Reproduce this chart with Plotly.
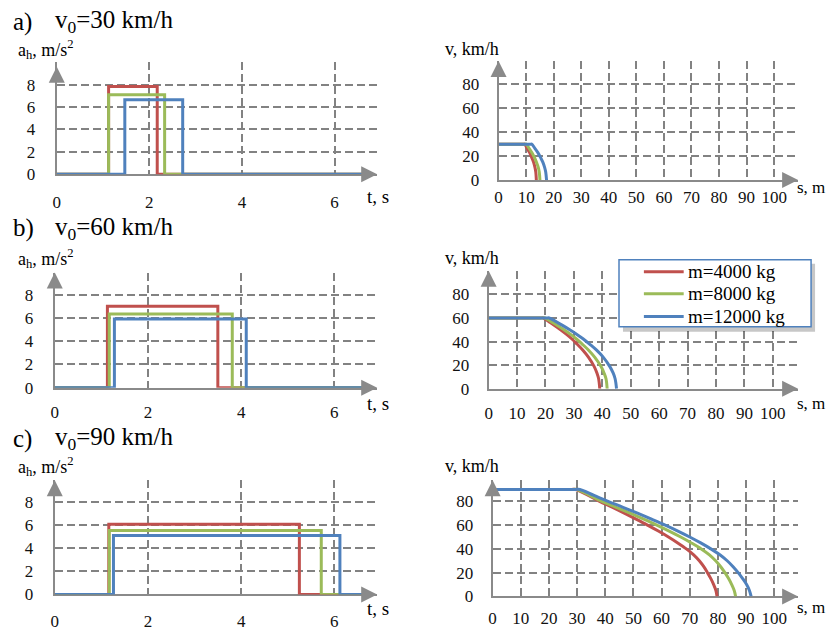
import plotly.graph_objects as go

W, H = 826, 633
FONT = "Liberation Serif"

# ---------------- data ----------------
masses = ["m=4000 kg", "m=8000 kg", "m=12000 kg"]
colors = ["#C0504D", "#9BBB59", "#4F81BD"]
speeds = [30, 60, 90]
panel_labels = ["a)", "b)", "c)"]

# deceleration a_h(t): onset time, plateau level, release time (per mass)
acc_on_30 = [1.12, 1.12, 1.47]
acc_level_30 = [7.85, 7.1, 6.65]
acc_off_30 = [2.17, 2.33, 2.72]

acc_on_60 = [1.13, 1.17, 1.28]
acc_level_60 = [7.0, 6.33, 5.9]
acc_off_60 = [3.5, 3.81, 4.11]

acc_on_90 = [1.16, 1.17, 1.26]
acc_level_90 = [6.07, 5.53, 5.1]
acc_off_90 = [5.25, 5.72, 6.12]

t_end = 6.75

# speed v(s) curves
s30_red = [0, 9.0, 9.5, 10.3, 11.2, 12.0, 12.7, 13.2, 13.5, 13.7]
s30_green = [0, 9.5, 10.0, 11.0, 12.0, 13.0, 13.75, 14.4, 14.75, 15.0]
s30_blue = [0, 11.5, 12.0, 13.1, 14.2, 15.2, 16.05, 16.7, 17.1, 17.4]
v30 = [30, 30, 30, 26.8, 23.2, 19.0, 15.0, 10.6, 6.7, 0]

s60_red = [0, 18.2, 19.2, 21.2, 23.2, 25.2, 27.2, 29.2, 31.1, 33.1, 35.1, 37.1, 38.1, 38.7, 39.1]
s60_green = [0, 18.8, 19.8, 22.0, 24.2, 26.4, 28.6, 30.8, 32.9, 35.1, 37.3, 39.5, 40.6, 41.3, 41.7]
s60_blue = [0, 20.3, 21.3, 23.7, 26.0, 28.4, 30.8, 33.2, 35.5, 37.9, 40.3, 42.6, 43.8, 44.5, 45.0]
v60 = [60, 60, 60, 56.9, 53.7, 50.2, 46.5, 42.4, 37.9, 32.9, 26.8, 19.0, 13.4, 8.5, 0]

s90_red = [0, 28.0, 29.5, 34.0, 38.0, 42.45, 46.75, 50.95, 55.0, 58.85, 62.45, 65.75, 68.8,
           71.4, 73.4, 75.0, 76.3, 77.5, 78.5, 79.3, 79.7]
s90_green = [0, 28.5, 30.0, 34.5, 38.8, 43.9, 48.85, 53.65, 58.3, 62.7, 66.8, 70.6, 74.1,
             77.0, 79.2, 81.0, 82.5, 83.8, 84.9, 85.8, 86.3]
s90_blue = [0, 29.5, 31.0, 36.0, 41.0, 46.3, 51.45, 56.45, 61.3, 65.8, 70.0, 73.9, 77.5,
            80.7, 83.3, 85.4, 87.2, 88.8, 90.2, 91.2, 91.8]
v90 = [90, 90, 90, 85, 80, 75, 70, 65, 60, 55, 50, 45, 40, 35, 30, 25, 20, 15, 10, 5, 0]

t_ticks = [0, 2, 4, 6]
a_ticks = [0, 2, 4, 6, 8]
s_ticks = [0, 10, 20, 30, 40, 50, 60, 70, 80, 90, 100]
v_ticks = [0, 20, 40, 60, 80]

# ---------------- helpers ----------------
def px(x):
    return x / W


def py(y):
    return 1 - y / H


GRID = "#828282"
AXIS = "#8a8a8a"
TXT = "#111111"

fig = go.Figure()

accel_sets = [
    (acc_on_30, acc_level_30, acc_off_30),
    (acc_on_60, acc_level_60, acc_off_60),
    (acc_on_90, acc_level_90, acc_off_90),
]
curve_sets = [
    ([s30_red, s30_green, s30_blue], v30),
    ([s60_red, s60_green, s60_blue], v60),
    ([s90_red, s90_green, s90_blue], v90),
]

for row in range(3):
    on, lev, off = accel_sets[row]
    ax_id = 2 * row + 1
    for k in range(3):
        fig.add_trace(go.Scatter(
            x=[0, on[k], on[k], off[k], off[k], t_end],
            y=[0, 0, lev[k], lev[k], 0, 0],
            mode="lines", line=dict(color=colors[k], width=3),
            xaxis=f"x{ax_id}", yaxis=f"y{ax_id}", showlegend=False, hoverinfo="skip"))
    svals, vvals = curve_sets[row]
    ax_id = 2 * row + 2
    for k in range(3):
        fig.add_trace(go.Scatter(
            x=svals[k], y=vvals,
            mode="lines", line=dict(color=colors[k], width=3, shape="spline", smoothing=1.0),
            xaxis=f"x{ax_id}", yaxis=f"y{ax_id}", showlegend=False, hoverinfo="skip"))

# panel boxes: left, right, bottom, top (px); axis ranges
boxes = {
    1: (53, 375, 177, 63), 2: (497, 798, 183, 62),
    3: (51, 375, 394, 277), 4: (487, 798, 395, 275),
    5: (51, 375, 604, 488), 6: (491, 798, 606, 488),
}
ranges = {
    1: (6.92, 10.03), 2: (108.7, 99.5),
    3: (6.92, 9.89), 4: (108.9, 100.1),
    5: (6.92, 9.86), 6: (108.5, 97.7),
}
xstand = {1: 11, 2: 0, 3: 8, 4: 8, 5: 10, 6: 5}
ystand = {1: 16, 2: 14, 3: 16, 4: 14, 5: 16, 6: 14}

layout = dict(
    width=W, height=H, margin=dict(l=0, r=0, t=0, b=0),
    paper_bgcolor="white", plot_bgcolor="white", showlegend=False,
    font=dict(family=FONT, color=TXT),
)
annotations = []
shapes = []
for i in range(1, 7):
    l, r, b, t = boxes[i]
    xr, yr = ranges[i]
    left_panel = (i % 2 == 1)
    sfx = "" if i == 1 else str(i)
    layout["xaxis" + sfx] = dict(
        domain=[px(l), px(r)], range=[0, xr], anchor="y" + (str(i) if i > 1 else ""),
        tickvals=t_ticks if left_panel else s_ticks,
        showline=True, linecolor=AXIS, linewidth=2, layer="below traces",
        showgrid=True, gridcolor=GRID, gridwidth=1.5, griddash="8px,4px",
        zeroline=False, ticks="", ticklabelstandoff=xstand[i],
        tickfont=dict(family=FONT, size=17, color=TXT), fixedrange=True,
    )
    layout["yaxis" + sfx] = dict(
        domain=[py(b), py(t)], range=[0, yr], anchor="x" + (str(i) if i > 1 else ""),
        tickvals=a_ticks if left_panel else v_ticks,
        showline=True, linecolor=AXIS, linewidth=2, layer="below traces",
        showgrid=True, gridcolor=GRID, gridwidth=1.5, griddash="8px,4px",
        zeroline=False, ticks="", ticklabelstandoff=ystand[i],
        tickfont=dict(family=FONT, size=17, color=TXT), fixedrange=True,
    )
    xref = "x" + (str(i) if i > 1 else "")
    yref = "y" + (str(i) if i > 1 else "")
    annotations.append(dict(x=xr, y=0, xref=xref, yref=yref, ax=-12, ay=0, text="",
                            showarrow=True, arrowhead=2, arrowsize=1.6, arrowwidth=2,
                            arrowcolor=AXIS))
    annotations.append(dict(x=0, y=yr if i != 1 else 9.6, xref=xref, yref=yref, ax=0, ay=12,
                            text="", showarrow=True, arrowhead=2, arrowsize=1.6,
                            arrowwidth=2, arrowcolor=AXIS))

title_y = [22, 232, 446]
ah_y = [50, 263, 474]
v_y = [50, 262, 473]
ts_y = [200, 410, 618]
sm_y = [191, 410, 617]
for row in range(3):
    annotations.append(dict(x=px(7), y=py(title_y[row]), xref="paper", yref="paper",
                            xanchor="left", yanchor="middle", showarrow=False,
                            text=panel_labels[row], font=dict(size=25, family=FONT, color="#000")))
    annotations.append(dict(x=px(49), y=py(title_y[row]), xref="paper", yref="paper",
                            xanchor="left", yanchor="middle", showarrow=False,
                            text=f"v<sub>0</sub>={speeds[row]} km/h",
                            font=dict(size=25, family=FONT, color="#000")))
    annotations.append(dict(x=px(12), y=py(ah_y[row]), xref="paper", yref="paper",
                            xanchor="left", yanchor="middle", showarrow=False,
                            text="a<sub>h</sub>, m/s<sup>2</sup>",
                            font=dict(size=18, family=FONT, color="#000")))
    annotations.append(dict(x=px(441), y=py(v_y[row]), xref="paper", yref="paper",
                            xanchor="left", yanchor="middle", showarrow=False,
                            text="v, km/h", font=dict(size=18, family=FONT, color="#000")))
    annotations.append(dict(x=px(363), y=py(ts_y[row]), xref="paper", yref="paper",
                            xanchor="left", yanchor="middle", showarrow=False,
                            text="t, s", font=dict(size=19, family=FONT, color="#000")))
    annotations.append(dict(x=px(795), y=py(sm_y[row]), xref="paper", yref="paper",
                            xanchor="left", yanchor="middle", showarrow=False,
                            text="s, m", font=dict(size=17, family=FONT, color="#000")))

# legend (drawn manually, with drop shadow)
shapes.append(dict(type="rect", xref="paper", yref="paper", layer="above",
                   x0=px(622), x1=px(815), y0=py(337), y1=py(268),
                   fillcolor="rgba(0,0,0,0.22)", line=dict(width=0)))
shapes.append(dict(type="rect", xref="paper", yref="paper", layer="above",
                   x0=px(618), x1=px(811), y0=py(332), y1=py(264),
                   fillcolor="white", line=dict(color="#4F81BD", width=1.5)))
leg_y = [276, 298.5, 321.5]
for k in range(3):
    shapes.append(dict(type="line", xref="paper", yref="paper", layer="above",
                       x0=px(643), x1=px(683), y0=py(leg_y[k]), y1=py(leg_y[k]),
                       line=dict(color=colors[k], width=3)))
    annotations.append(dict(x=px(685), y=py(leg_y[k]), xref="paper", yref="paper",
                            xanchor="left", yanchor="middle", showarrow=False,
                            text=masses[k], font=dict(size=19, family=FONT, color="#000")))

layout["annotations"] = annotations
layout["shapes"] = shapes
fig.update_layout(**layout)
fig.write_html("out.html")
